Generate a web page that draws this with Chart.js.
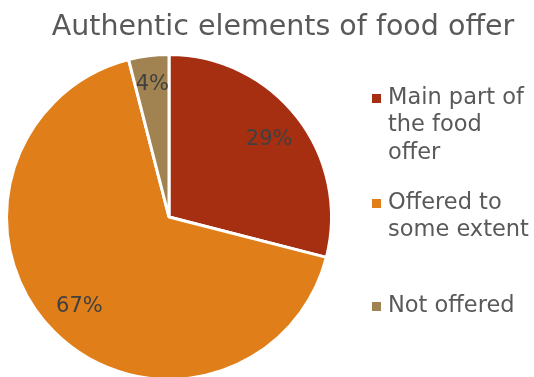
<!DOCTYPE html>
<html lang="en">
<head>
<meta charset="UTF-8">
<script src="https://cdn.jsdelivr.net/npm/chart.js"></script>
<title>Authentic elements of food offer</title>
<style>
  html, body { margin: 0; padding: 0; background: #fff; overflow: hidden; }
  #wrap { position: relative; width: 534px; height: 384px; }
</style>
</head>
<body>
<div id="wrap"><canvas id="pie"></canvas></div>
<script>
const chartTitle = 'Authentic elements of food offer';
const categories = ['Main part of the food offer', 'Offered to some extent', 'Not offered'];
const legendLines = [['Main part of', 'the food', 'offer'], ['Offered to', 'some extent'], ['Not offered']];
const shares = [29, 67, 4];
const colors = ['#A52F10', '#E07F19', '#A08350'];

const FONT = '"DejaVu Sans", sans-serif';

const overlay = {
  id: 'overlay',
  afterDatasetsDraw(chart) {
    const ctx = chart.ctx;
    const meta = chart.getDatasetMeta(0);
    ctx.save();
    // percent labels
    ctx.fillStyle = '#404040';
    ctx.font = '21px ' + FONT;
    ctx.textAlign = 'center';
    ctx.textBaseline = 'middle';
    meta.data.forEach((arc, i) => {
      const mid = (arc.startAngle + arc.endAngle) / 2;
      const r = arc.outerRadius * (i === 2 ? 0.82 : 0.78);
      ctx.fillText(shares[i] + '%', arc.x + Math.cos(mid) * r, arc.y + Math.sin(mid) * r);
    });
    // title
    ctx.fillStyle = '#595959';
    ctx.font = '28.5px ' + FONT;
    ctx.textBaseline = 'alphabetic';
    ctx.fillText(chartTitle, 283, 35);
    // legend
    ctx.textAlign = 'left';
    ctx.font = '22.5px ' + FONT;
    const tops = [98, 203, 306];
    legendLines.forEach((lines, i) => {
      ctx.fillStyle = colors[i];
      ctx.fillRect(372, tops[i] - 4, 9, 9);
      ctx.fillStyle = '#595959';
      ctx.textBaseline = 'middle';
      lines.forEach((t, j) => ctx.fillText(t, 388, tops[i] + j * 27.5));
    });
    ctx.restore();
  }
};

new Chart(document.getElementById('pie'), {
  type: 'pie',
  data: {
    labels: categories,
    datasets: [{
      data: shares,
      backgroundColor: colors,
      borderColor: '#ffffff',
      borderWidth: 3
    }]
  },
  options: {
    responsive: true,
    maintainAspectRatio: false,
    animation: false,
    layout: { padding: { left: 5, right: 201, top: 53, bottom: 3 } },
    plugins: {
      legend: { display: false },
      tooltip: { enabled: false },
      title: { display: false }
    }
  },
  plugins: [overlay]
});
</script>
</body>
</html>
